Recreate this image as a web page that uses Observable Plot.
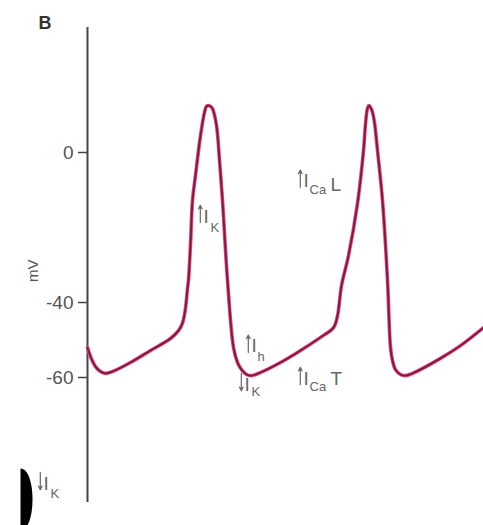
<!DOCTYPE html>
<html>
<head>
<meta charset="utf-8">
<script src="https://cdn.jsdelivr.net/npm/d3@7"></script>
<script src="https://cdn.jsdelivr.net/npm/@observablehq/plot@0.6"></script>
<style>
  html, body { margin: 0; padding: 0; background: #fff; }
  #chart svg { display: block; }
</style>
</head>
<body>
<div id="chart"></div>
<script>
// time (arbitrary units) and membrane potential (mV)
const timeVals = [0, 3, 8, 13, 18, 25, 43, 63, 83, 91, 95, 98, 100, 101, 103, 105, 108, 113, 117, 119, 121, 123, 125, 129, 132, 135, 140, 146, 150, 154, 159, 164, 171, 193, 213, 233, 246, 250, 254, 261, 270, 276, 278, 280, 281.5, 283, 284.5, 287, 290, 295, 300, 303, 305, 308, 313, 318, 325, 353, 373, 396];
const mvVals   = [-52.0, -54.4, -57.1, -58.4, -58.9, -58.4, -56.0, -52.8, -49.6, -47.5, -45.5, -41.5, -36.3, -34.1, -24.5, -12.8, -6.1, 4.5, 10.7, 12.3, 12.5, 12.3, 11.7, 7.2, -2.1, -12.8, -34.1, -52.0, -56.0, -57.9, -59.2, -59.5, -58.9, -56.0, -52.8, -49.3, -46.7, -43.5, -35.5, -27.5, -13.6, 0.5, 7.5, 11.8, 12.5, 12.0, 11.2, 8.0, 0.5, -12.8, -34.1, -52.0, -55.5, -57.9, -59.2, -59.5, -58.9, -54.9, -51.5, -46.7];

const yTicks = [0, -40, -60];
const yLabel = "mV";
const panelLabel = "B";

// current annotations: arrow direction + "I" (anchor = left edge, baseline), subscript, trailing letter
const arrowDir  = ["up", "up", "down", "up", "up", "down"];
const arrowT    = [110, 158, 151, 210, 210, -50];
const arrowV    = [-18.7, -53.3, -63.5, -9.3, -61.9, -89.9];
const subText   = ["K", "h", "K", "Ca", "Ca", "K"];
const subT      = [123, 170, 164, 222, 222, -37];
const subV      = [-21.3, -55.5, -64.8, -11.2, -63.7, -92.0];
const tailText  = ["L", "T"];
const tailT     = [243, 243];
const tailV     = [-10.4, -61.9];

const trace = timeVals.map((t, i) => ({t, v: mvVals[i]}));
const arrows = arrowDir.map((dir, i) => ({dir, t: arrowT[i], v: arrowV[i]}));
const subs = subText.map((s, i) => ({s, t: subT[i], v: subV[i]}));
const tails = tailText.map((s, i) => ({s, t: tailT[i], v: tailV[i]}));

const font = "'Liberation Sans', Arial, sans-serif";
const arrowLen = 4.6; // in mV units (about one glyph height)

// right half of a filled ellipse (the cut-off black shape at bottom-left)
const halfBlob = {
  draw(ctx) {
    ctx.moveTo(0, -31);
    ctx.bezierCurveTo(16, -31, 16, 31, 0, 31);
    ctx.closePath();
  }
};

const chart = Plot.plot({
  width: 483,
  height: 525,
  marginLeft: 87,
  marginRight: 0,
  marginTop: 27,
  marginBottom: 23,
  style: {fontFamily: font, background: "#fff", overflow: "visible"},
  x: {domain: [0, 396], axis: null},
  y: {domain: [-93.33, 33.33], axis: null},
  marks: [
    Plot.ruleX([0], {stroke: "#444", strokeWidth: 2}),
    Plot.axisY({ticks: yTicks, tickSize: 9, tickPadding: 5, fontSize: 19, stroke: "#444", strokeWidth: 1.5, color: "#555",
                tickFormat: d => d < 0 ? "-" + Math.abs(d) : String(d), label: null}),
    Plot.text([yLabel], {x: 0, y: -31.5, dx: -54, rotate: -90, fontSize: 15, fill: "#555"}),
    Plot.text([panelLabel], {x: 0, y: 32.8, dx: -49, textAnchor: "start", lineAnchor: "bottom", fontSize: 18, fontWeight: "bold", fill: "#333"}),
    Plot.dot([0], {x: -67, y: -92.5, symbol: halfBlob, fill: "#000", stroke: null}),
    Plot.line(trace, {x: "t", y: "v", curve: "catmull-rom", stroke: "#e0487c", strokeWidth: 3.6}),
    Plot.line(trace, {x: "t", y: "v", curve: "catmull-rom", stroke: "#7d1840", strokeWidth: 1.8}),
    Plot.arrow(arrows, {
      x1: d => d.t + 0.8, x2: d => d.t + 0.8,
      y1: d => d.dir === "up" ? d.v : d.v + arrowLen,
      y2: d => d.dir === "up" ? d.v + arrowLen : d.v,
      dx: 2, headLength: 5, headAngle: 55, strokeWidth: 1.2, stroke: "#666"
    }),
    Plot.text(arrows, {x: "t", y: "v", text: () => "I", dx: 6, textAnchor: "start", lineAnchor: "bottom", fontSize: 19, fill: "#666"}),
    Plot.text(tails, {x: "t", y: "v", text: "s", textAnchor: "start", lineAnchor: "bottom", fontSize: 19, fill: "#666"}),
    Plot.text(subs, {x: "t", y: "v", text: "s", textAnchor: "start", lineAnchor: "bottom", fontSize: 13, fill: "#666"})
  ]
});
document.getElementById("chart").appendChild(chart);
</script>
</body>
</html>
